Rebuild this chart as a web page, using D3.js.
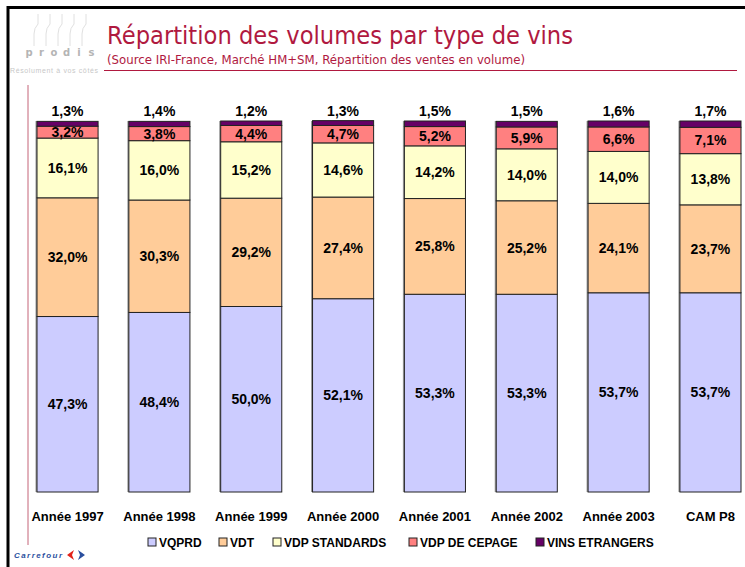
<!DOCTYPE html>
<html>
<head>
<meta charset="utf-8">
<script src="https://cdn.jsdelivr.net/npm/d3@7"></script>
<style>
  html, body { margin: 0; padding: 0; background: #fff; }
  svg { display: block; }
</style>
</head>
<body>
<svg id="chart" width="745" height="567"></svg>
<script>
// Répartition des volumes par type de vins (prodis / Carrefour slide)

const years = ['Année 1997', 'Année 1998', 'Année 1999', 'Année 2000', 'Année 2001', 'Année 2002', 'Année 2003', 'CAM P8'];
const seriesNames = ['VQPRD', 'VDT', 'VDP STANDARDS', 'VDP DE CEPAGE', 'VINS ETRANGERS'];
const seriesColors = ['#CCCCFF', '#FFCC99', '#FFFFCC', '#FF8080', '#660066'];

const vqprd = [47.3, 48.4, 50.0, 52.1, 53.3, 53.3, 53.7, 53.7];
const vdt = [32.0, 30.3, 29.2, 27.4, 25.8, 25.2, 24.1, 23.7];
const vdpStandards = [16.1, 16.0, 15.2, 14.6, 14.2, 14.0, 14.0, 13.8];
const vdpCepage = [3.2, 3.8, 4.4, 4.7, 5.2, 5.9, 6.6, 7.1];
const vinsEtrangers = [1.3, 1.4, 1.2, 1.3, 1.5, 1.5, 1.6, 1.7];

const allSeries = [vqprd, vdt, vdpStandards, vdpCepage, vinsEtrangers];

const fmt = v => v.toFixed(1).replace('.', ',') + '%';
const crimson = '#B0193F';

const svg = d3.select('#chart');

// ---- page frame
svg.append('line').attr('x1', 7).attr('x2', 745).attr('y1', 7.5).attr('y2', 7.5)
  .attr('stroke', '#000').attr('stroke-width', 3);
svg.append('line').attr('x1', 8).attr('x2', 8).attr('y1', 6).attr('y2', 567)
  .attr('stroke', '#000').attr('stroke-width', 3);

// pink rule left + title underline
svg.append('line').attr('x1', 28).attr('x2', 28).attr('y1', 85).attr('y2', 545)
  .attr('stroke', '#C46478').attr('stroke-width', 1);
svg.append('line').attr('x1', 104).attr('x2', 737).attr('y1', 70.5).attr('y2', 70.5)
  .attr('stroke', crimson).attr('stroke-width', 1.2);

// ---- prodis logo (faint bottles + wordmark)
const logo = svg.append('g').attr('opacity', 0.55);
[38, 50, 62, 74, 86].forEach(bx => {
  logo.append('path')
    .attr('d', `M${bx},14 L${bx},24 Q${bx - 4},28 ${bx - 4},34 L${bx - 4},46`)
    .attr('fill', 'none').attr('stroke', '#c8c8c8').attr('stroke-width', 1);
});
const letters = ['p', 'r', 'o', 'd', 'i', 's'];
letters.forEach((ch, i) => {
  logo.append('text').attr('x', 29 + i * 12.5).attr('y', 56)
    .attr('font-family', 'DejaVu Sans, sans-serif').attr('font-size', 10).attr('font-weight', 'bold')
    .attr('fill', '#777').attr('text-anchor', 'middle').text(ch);
});
logo.append('text').attr('x', 10).attr('y', 73).attr('textLength', 88)
  .attr('font-family', 'Liberation Sans, sans-serif').attr('font-size', 7)
  .attr('fill', '#999').text('Résolument à vos côtés');

// ---- titles
svg.append('text').attr('x', 107).attr('y', 44).attr('textLength', 466)
  .attr('lengthAdjust', 'spacingAndGlyphs')
  .attr('font-family', '"Comic Sans MS", "DejaVu Sans", sans-serif').attr('font-size', 24)
  .attr('fill', crimson).text('Répartition des volumes par type de vins');
svg.append('text').attr('x', 107).attr('y', 64).attr('textLength', 418)
  .attr('lengthAdjust', 'spacingAndGlyphs')
  .attr('font-family', '"Comic Sans MS", "DejaVu Sans", sans-serif').attr('font-size', 12)
  .attr('fill', crimson).text('(Source IRI-France, Marché HM+SM, Répartition des ventes en volume)');

// ---- scales
const x = d3.scaleBand().domain(years).range([37, 741]).paddingInner(0.335).paddingOuter(0);
const y = d3.scaleLinear().domain([0, 100]).range([492, 121]);

const table = years.map((yr, i) => {
  const row = { year: yr };
  seriesNames.forEach((s, k) => { row[s] = allSeries[k][i]; });
  return row;
});
const stacked = d3.stack().keys(seriesNames)(table);

const plot = svg.append('g');

// bar shadow on the left edge
plot.selectAll('rect.shadow').data(years).join('rect')
  .attr('class', 'shadow')
  .attr('x', d => x(d) - 1.5)
  .attr('y', y(100))
  .attr('width', 2)
  .attr('height', y(0) - y(100))
  .attr('fill', '#999');

stacked.forEach((layer, k) => {
  plot.append('g').selectAll('rect').data(layer).join('rect')
    .attr('x', d => x(d.data.year))
    .attr('y', d => y(d[1]))
    .attr('width', x.bandwidth())
    .attr('height', d => y(d[0]) - y(d[1]))
    .attr('fill', seriesColors[k])
    .attr('stroke', '#222')
    .attr('stroke-width', 1);
});

// value labels
stacked.forEach((layer, k) => {
  plot.append('g').selectAll('text').data(layer).join('text')
    .attr('x', d => x(d.data.year) + x.bandwidth() / 2)
    .attr('y', d => k === 4 ? y(d[1]) - 5 : (y(d[0]) + y(d[1])) / 2 + 5)
    .attr('text-anchor', 'middle')
    .attr('font-family', 'Liberation Sans, Arial, sans-serif')
    .attr('font-weight', 'bold').attr('font-size', 14)
    .attr('fill', '#000')
    .text(d => fmt(d[1] - d[0]));
});

// category labels
const xAxis = svg.append('g').attr('transform', 'translate(0,492)')
  .call(d3.axisBottom(x).tickSize(0).tickPadding(20));
xAxis.select('.domain').remove();
xAxis.selectAll('text')
  .attr('font-family', 'Liberation Sans, Arial, sans-serif')
  .attr('font-weight', 'bold').attr('font-size', 13).attr('fill', '#000');

// ---- legend
const legendX = [148, 219, 273, 409, 536];
const legend = svg.append('g').selectAll('g').data(seriesNames).join('g')
  .attr('transform', (d, i) => `translate(${legendX[i]},538)`);
legend.append('rect').attr('width', 8).attr('height', 8)
  .attr('fill', (d, i) => seriesColors[i]).attr('stroke', '#222').attr('stroke-width', 1);
legend.append('text').attr('x', 11).attr('y', 8.5)
  .attr('font-family', 'Liberation Sans, Arial, sans-serif')
  .attr('font-weight', 'bold').attr('font-size', 12).attr('fill', '#000')
  .text(d => d);

// ---- Carrefour logo
svg.append('text').attr('x', 14).attr('y', 558).attr('textLength', 48)
  .attr('font-family', 'Liberation Sans, Arial, sans-serif').attr('font-size', 8)
  .attr('font-weight', 'bold').attr('font-style', 'italic').attr('fill', '#2a4f9e')
  .text('Carrefour');
svg.append('path').attr('d', 'M74,550 L67,555 L74,560 L72,555 Z').attr('fill', '#e2231a');
svg.append('path').attr('d', 'M78,550 L85,555 L78,560 L80,555 Z').attr('fill', '#2a4f9e');
</script>
</body>
</html>
